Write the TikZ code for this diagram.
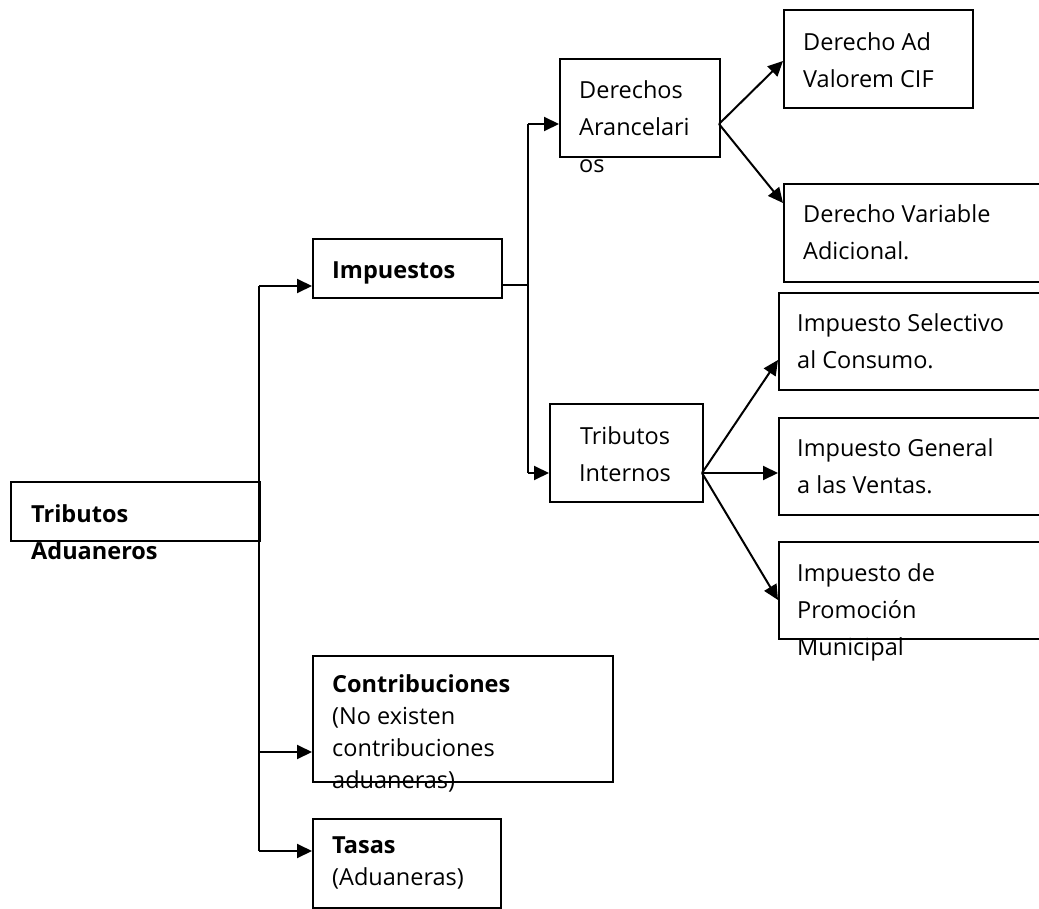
\documentclass[tikz,border=0pt]{standalone}
\usepackage{fontspec}
\setmainfont{Open Sans}
\usetikzlibrary{arrows.meta}
\begin{document}
\begin{tikzpicture}[x=1pt,y=-1pt,
  box/.style={draw, line width=2pt, inner sep=0pt, anchor=north west},
  txt/.style={inner sep=0pt, anchor=base west, align=left, font=\fontsize{23.5}{37}\selectfont},
  ctxt/.style={inner sep=0pt, anchor=base, align=center, font=\fontsize{23.5}{37}\selectfont},
  line/.style={line width=2pt},
  arr/.style={line width=2pt, -{Triangle[length=15pt,width=14pt]}}]
\useasboundingbox[fill=white] (0,0) rectangle (1039,909);
% boxes
\node[box, minimum width=249pt, minimum height=59pt] (ta) at (10,481) {};
\node[box, minimum width=189pt, minimum height=59pt] (imp) at (312,238) {};
\node[box, minimum width=160pt, minimum height=98pt] (da) at (559,58) {};
\node[box, minimum width=189pt, minimum height=98pt] (dav) at (783,9) {};
\node[box, minimum width=270pt, minimum height=98pt] (dva) at (783,183) {};
\node[box, minimum width=153pt, minimum height=98pt] (ti) at (549,403) {};
\node[box, minimum width=275pt, minimum height=97pt] (isc) at (778,292) {};
\node[box, minimum width=275pt, minimum height=97pt] (igv) at (778,417) {};
\node[box, minimum width=275pt, minimum height=97pt] (ipm) at (778,541) {};
\node[box, minimum width=300pt, minimum height=126pt] (con) at (312,655) {};
\node[box, minimum width=188pt, minimum height=89pt] (tas) at (312,818) {};
% texts (anchored at the baseline of the last line)
\node[txt] (tat) at (31,559) {\textbf{Tributos}\\\textbf{Aduaneros}};
\node[txt] (impt) at (332,279) {\textbf{Impuestos}};
\node[txt] (dat) at (579,173) {Derechos\\Arancelari\\os};
\node[txt] (davt) at (803,88) {Derecho Ad\\Valorem CIF};
\node[txt] (dvat) at (803,260) {Derecho Variable\\Adicional.};
\node[ctxt] (tit) at (625,481) {Tributos\\Internos};
\node[txt] (isct) at (797,369) {Impuesto Selectivo\\al Consumo.};
\node[txt] (igvt) at (797,493) {Impuesto General\\a las Ventas.};
\node[txt] (ipmt) at (797,655) {Impuesto de\\Promoción\\Municipal};
\node[txt, font=\fontsize{23.5}{32}\selectfont] (cont) at (332,788) {\textbf{Contribuciones}\\(No existen\\contribuciones\\aduaneras)};
\node[txt, font=\fontsize{23.5}{32}\selectfont] (tast) at (332,885) {\textbf{Tasas}\\(Aduaneras)};
% connector points
\coordinate (j1) at (259,286);
\coordinate (j1b) at (259,752);
\coordinate (j1c) at (259,851);
\coordinate (j2) at (528,285);
\coordinate (j2a) at (528,124);
\coordinate (j2b) at (528,473);
\coordinate (daR) at (719,124);
\coordinate (tiR) at (702,473);
% connectors
\draw[line] (j1) -- (j1c);
\draw[arr] (j1) -- (j1 -| imp.west);
\draw[arr] (j1b) -- (j1b -| con.west);
\draw[arr] (j1c) -- (j1c -| tas.west);
\draw[line] (j2 -| imp.east) -- (j2);
\draw[line] (j2a) -- (j2b);
\draw[arr] (j2a) -- (j2a -| da.west);
\draw[arr] (j2b) -- (j2b -| ti.west);
\draw[arr] (daR) -- (dav.west |- 0,61);
\draw[arr] (daR) -- (dva.west |- 0,203);
\draw[arr] (tiR) -- (isc.west |- 0,360);
\draw[arr] (tiR) -- (igv.west |- 0,473);
\draw[arr] (tiR) -- (ipm.west |- 0,600);
\end{tikzpicture}
\end{document}
